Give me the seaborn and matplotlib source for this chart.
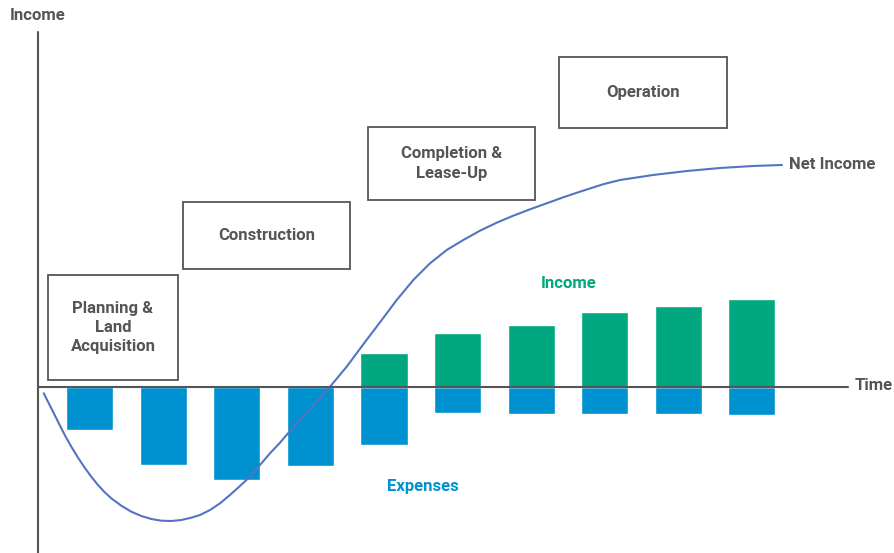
import matplotlib
matplotlib.use("Agg")
import matplotlib.pyplot as plt
import seaborn as sns
import pandas as pd
from matplotlib.patches import Rectangle
from matplotlib.lines import Line2D

# ---- data -------------------------------------------------------------
periods = list(range(10))
expenses = [-4.3, -7.8, -9.3, -7.9, -5.8, -2.6, -2.7, -2.7, -2.7, -2.8]
income_periods = [4, 5, 6, 7, 8, 9]
income = [3.4, 5.4, 6.2, 7.5, 8.1, 8.8]

net_time = [-0.624, -0.521, -0.430, -0.339, -0.249, -0.158, -0.067, 0.022,
            0.113, 0.205, 0.294, 0.430, 0.566, 0.702, 0.838, 0.974, 1.110,
            1.246, 1.381, 1.500, 1.636, 1.772, 1.907, 2.043, 2.179, 2.315,
            2.451, 2.587, 2.723, 2.859, 2.995, 3.131, 3.267, 3.493, 3.719,
            3.946, 4.173, 4.399, 4.626, 4.853, 5.078, 5.305, 5.532, 5.758,
            5.985, 6.212, 6.437, 6.664, 6.981, 7.208, 7.656, 8.118,
            8.567, 9.015, 9.409]
net_income = [-0.68, -2.18, -3.52, -4.85, -6.02, -7.12, -8.12, -9.02,
              -9.85, -10.58, -11.18, -11.92, -12.52, -12.95, -13.25, -13.42,
              -13.45, -13.35, -13.12, -12.85, -12.35, -11.68, -10.85, -9.95,
              -9.02, -7.85, -6.68, -5.62, -4.45, -3.35, -2.25, -1.12, -0.02,
              1.98, 4.22, 6.42, 8.65, 10.65, 12.32, 13.65, 14.65, 15.58,
              16.38, 17.08, 17.72, 18.32, 18.92, 19.48, 20.23, 20.65,
              21.15, 21.55, 21.85, 22.05, 22.15]

phases = ["Planning &\nLand\nAcquisition", "Construction",
          "Completion &\nLease-Up", "Operation"]

# ---- style ------------------------------------------------------------
sns.set_theme(style="white")
plt.rcParams["font.family"] = ["Roboto", "DejaVu Sans"]

BLUE = "#0091d0"
GREEN = "#00a77f"
LINE = "#5474c2"
GREY = "#555555"
FS = 12

W, H = 895, 553
fig = plt.figure(figsize=(W / 100, H / 100), dpi=100)
ax = fig.add_axes([0, 0, 1, 1])


def fx(px):
    return px / W


def fy(py):
    return 1 - py / H


exp_df = pd.DataFrame({"period": periods, "value": expenses})
inc_df = pd.DataFrame({"period": income_periods, "value": income})
net_df = pd.DataFrame({"time": net_time, "net": net_income})

sns.barplot(data=exp_df, x="period", y="value", native_scale=True,
            color=BLUE, saturation=1, width=0.64, ax=ax)
sns.barplot(data=inc_df, x="period", y="value", native_scale=True,
            color=GREEN, saturation=1, width=0.64, ax=ax)
sns.lineplot(data=net_df, x="time", y="net", color=LINE, linewidth=1.5,
             ax=ax, sort=False)

# period 0 centred at 89.65 px, 73.58 px per period; zero line at 386.5 px,
# 10 px per unit
X0, DX, Y0, DY = 89.65, 73.58, 386.5, 10.0
ax.set_xlim((0 - X0) / DX, (W - X0) / DX)
ax.set_ylim((Y0 - H) / DY, Y0 / DY)
ax.set_axis_off()

# axes lines
fig.add_artist(Line2D([fx(38), fx(38)], [fy(32), fy(553)],
                      transform=fig.transFigure, color=GREY, lw=1.5))
fig.add_artist(Line2D([fx(38), fx(848)], [fy(386.5), fy(386.5)],
                      transform=fig.transFigure, color=GREY, lw=1.5))

# phase boxes
boxes = [(48, 275, 178, 380), (183, 202, 350, 269),
         (368, 127, 535, 200), (559, 57, 727, 128)]
for (x0, y0, x1, y1), label in zip(boxes, phases):
    fig.add_artist(Rectangle((fx(x0), fy(y1)), fx(x1) - fx(x0), fy(y0) - fy(y1),
                             transform=fig.transFigure, fill=False,
                             edgecolor=GREY, lw=1.3))
    fig.text(fx((x0 + x1) / 2), fy((y0 + y1) / 2), label, ha="center",
             va="center", fontsize=FS, fontweight="bold", color=GREY,
             linespacing=1.35)

# labels
fig.text(fx(10), fy(15), "Income", ha="left", va="center", fontsize=FS,
         fontweight="bold", color=GREY)
fig.text(fx(855), fy(386), "Time", ha="left", va="center", fontsize=FS,
         fontweight="bold", color=GREY)
fig.text(fx(789), fy(165), "Net Income", ha="left", va="center", fontsize=FS,
         fontweight="bold", color=GREY)
fig.text(fx(569), fy(284), "Income", ha="center", va="center", fontsize=FS,
         fontweight="bold", color=GREEN)
fig.text(fx(423), fy(487), "Expenses", ha="center", va="center", fontsize=FS,
         fontweight="bold", color=BLUE)

fig.savefig("out.png", dpi=100)
